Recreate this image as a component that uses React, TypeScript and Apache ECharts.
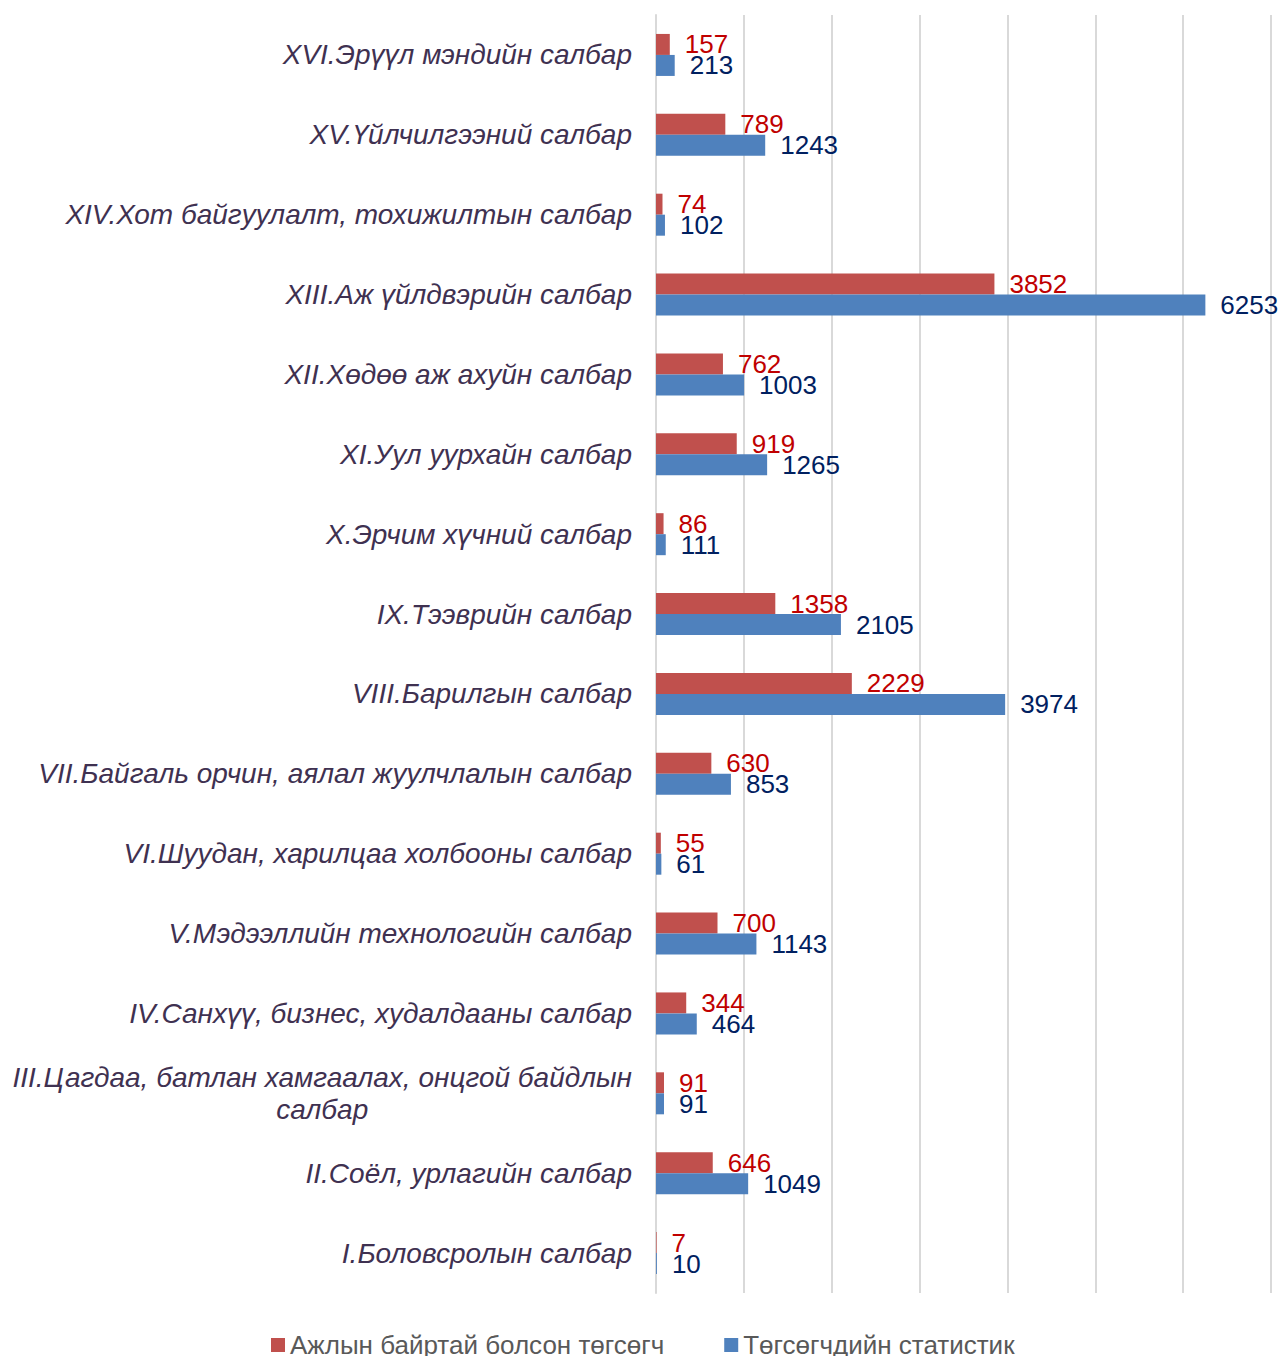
import React, { useEffect, useRef } from "react";
import * as echarts from "echarts";

const categories = [
  "I.Боловсролын салбар",
  "II.Соёл, урлагийн салбар",
  "III.Цагдаа, батлан хамгаалах, онцгой байдлын салбар",
  "IV.Санхүү, бизнес, худалдааны салбар",
  "V.Мэдээллийн технологийн салбар",
  "VI.Шуудан, харилцаа холбооны салбар",
  "VII.Байгаль орчин, аялал жуулчлалын салбар",
  "VIII.Барилгын салбар",
  "IX.Тээврийн салбар",
  "X.Эрчим хүчний салбар",
  "XI.Уул уурхайн салбар",
  "XII.Хөдөө аж ахуйн салбар",
  "XIII.Аж үйлдвэрийн салбар",
  "XIV.Хот байгуулалт, тохижилтын салбар",
  "XV.Үйлчилгээний салбар",
  "XVI.Эрүүл мэндийн салбар",
];

const employed = [7, 646, 91, 344, 700, 55, 630, 2229, 1358, 86, 919, 762, 3852, 74, 789, 157];
const graduates = [10, 1049, 91, 464, 1143, 61, 853, 3974, 2105, 111, 1265, 1003, 6253, 102, 1243, 213];

const seriesNames = ["Ажлын байртай болсон төгсөгч", "Төгсөгчдийн статистик"];

export default function App() {
  const ref = useRef<HTMLDivElement>(null);
  useEffect(() => {
    if (!ref.current) return;
    const chart = echarts.init(ref.current, undefined, { renderer: "svg" });
    const font = "'Liberation Sans', Arial, sans-serif";
    chart.setOption({
      animation: false,
      textStyle: { fontFamily: font },
      grid: { left: 656, right: 10, top: 15, bottom: 63, containLabel: false },
      legend: {
        data: seriesNames,
        top: 1327,
        left: 266,
        icon: "rect",
        itemWidth: 14,
        itemHeight: 14,
        itemGap: 60,
        itemTextGap: 5,
        textStyle: { color: "#595959", fontSize: 26, fontFamily: font },
      },
      xAxis: {
        type: "value",
        min: 0,
        max: 7000,
        interval: 1000,
        axisLabel: { show: false },
        axisLine: { show: false },
        axisTick: { show: false },
        splitLine: { lineStyle: { color: "#d9d9d9", width: 2 } },
      },
      yAxis: {
        type: "category",
        data: categories,
        axisTick: { show: false },
        axisLine: { show: true, lineStyle: { color: "#d9d9d9", width: 2 } },
        axisLabel: {
          margin: 24,
          color: "#3f3151",
          fontSize: 28,
          fontStyle: "italic",
          fontFamily: font,
          formatter: (v: string) => {
            if (v.startsWith("III.")) {
              return "{c|III.Цагдаа, батлан хамгаалах, онцгой байдлын}\n{c|салбар}";
            }
            return v;
          },
          rich: {
            c: {
              align: "center",
              color: "#3f3151",
              fontSize: 28,
              fontStyle: "italic",
              fontFamily: font,
              lineHeight: 32,
            },
          },
        },
      },
      series: [
        {
          name: seriesNames[0],
          type: "bar",
          data: employed,
          barWidth: 21,
          barGap: "0%",
          itemStyle: { color: "#C0504D" },
          label: {
            show: true,
            position: "right",
            distance: 15,
            color: "#C00000",
            fontSize: 26,
            fontFamily: font,
          },
        },
        {
          name: seriesNames[1],
          type: "bar",
          data: graduates,
          barWidth: 21,
          barGap: "0%",
          itemStyle: { color: "#4F81BD" },
          label: {
            show: true,
            position: "right",
            distance: 15,
            color: "#002060",
            fontSize: 26,
            fontFamily: font,
          },
        },
      ],
    });
    return () => chart.dispose();
  }, []);
  return (
    <div
      ref={ref}
      style={{ position: "absolute", left: 0, top: 0, width: 1281, height: 1356 }}
    />
  );
}
